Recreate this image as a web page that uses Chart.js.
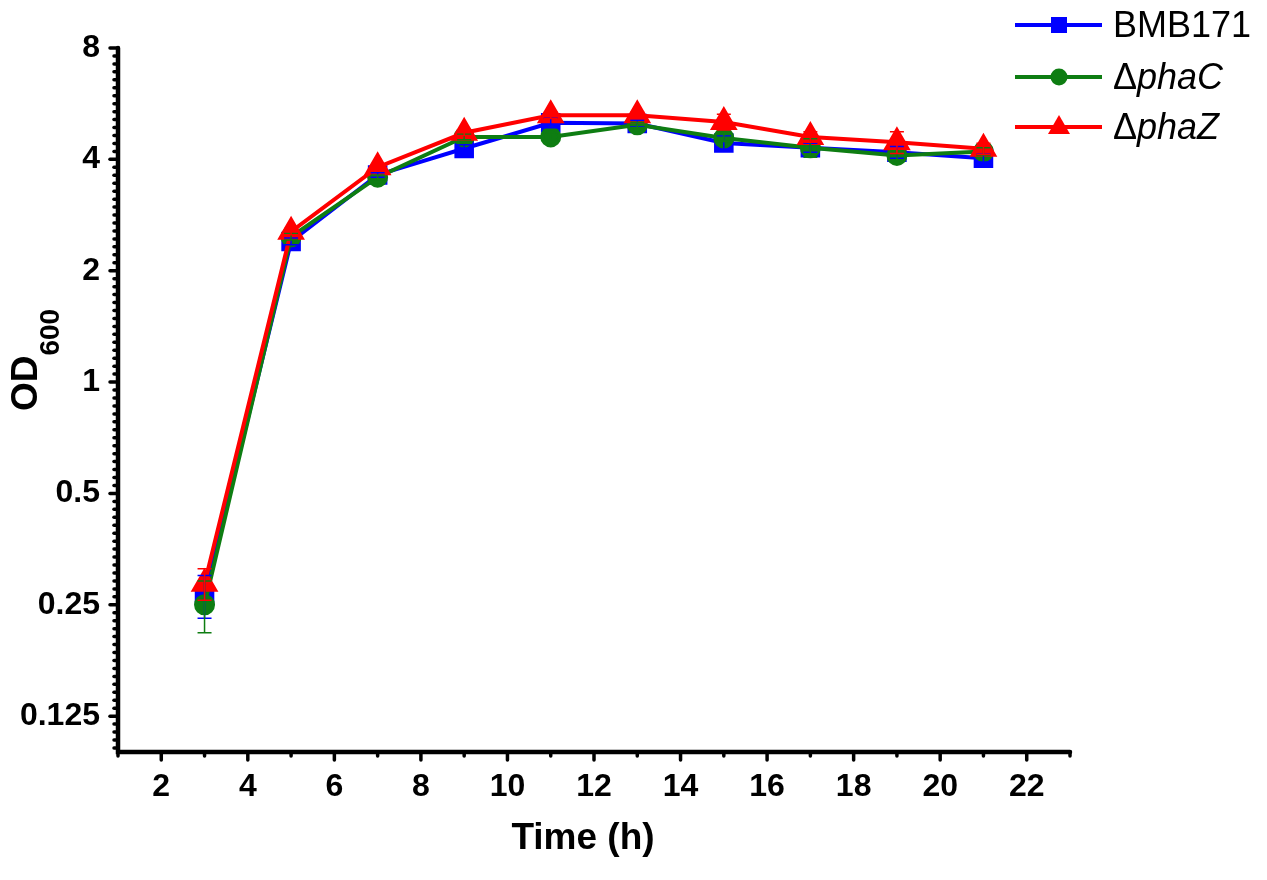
<!DOCTYPE html>
<html>
<head>
<meta charset="utf-8">
<script src="https://cdn.jsdelivr.net/npm/chart.js@4.4.0/dist/chart.umd.min.js"></script>
<style>
html,body{margin:0;padding:0;background:#fff;}
canvas{display:block;}
</style>
</head>
<body>
<canvas id="c" width="1267" height="880"></canvas>
<script>
const times = [3, 5, 7, 9, 11, 13, 15, 17, 19, 21];
const bmb171 = [0.265, 2.40, 3.63, 4.28, 5.02, 5.0, 4.43, 4.3, 4.18, 4.03];
const bmb171Err = [0.035, 0.05, 0.05, 0.1, 0.15, 0.1, 0.2, 0.12, 0.15, 0.1];
const phaC = [0.25, 2.47, 3.58, 4.6, 4.6, 4.96, 4.57, 4.3, 4.1, 4.2];
const phaCErr = [0.04, 0.05, 0.05, 0.08, 0.08, 0.08, 0.1, 0.25, 0.12, 0.1];
const phaZ = [0.285, 2.55, 3.81, 4.72, 5.26, 5.26, 5.05, 4.6, 4.45, 4.27];
const phaZErr = [0.028, 0.05, 0.05, 0.08, 0.1, 0.1, 0.25, 0.15, 0.3, 0.15];
const xTicks = [2, 4, 6, 8, 10, 12, 14, 16, 18, 20, 22];
const yTicks = [0.125, 0.25, 0.5, 1, 2, 4, 8];
const yTickLabels = ['0.125', '0.25', '0.5', '1', '2', '4', '8'];

const BLUE = '#0000ff', GREEN = '#0e7d12', RED = '#ff0000';
const FONT = "'Liberation Sans', Arial, sans-serif";

function pts(vals) { return times.map((t, i) => ({x: t, y: vals[i]})); }

const errs = [bmb171Err, phaCErr, phaZErr];

const customPlugin = {
  id: 'custom',
  afterDatasetsDraw(chart) {
    const ctx = chart.ctx, xs = chart.scales.x, ys = chart.scales.y;
    chart.data.datasets.forEach((ds, di) => {
      const e = errs[di];
      ctx.save();
      ctx.strokeStyle = ds.borderColor;
      ctx.lineWidth = 1.5;
      ds.data.forEach((p, i) => {
        const px = xs.getPixelForValue(p.x);
        const yt = ys.getPixelForValue(p.y + e[i]);
        const yb = ys.getPixelForValue(p.y - e[i]);
        ctx.beginPath();
        ctx.moveTo(px, yt); ctx.lineTo(px, yb);
        ctx.moveTo(px - 7, yt); ctx.lineTo(px + 7, yt);
        ctx.moveTo(px - 7, yb); ctx.lineTo(px + 7, yb);
        ctx.stroke();
      });
      ctx.restore();
    });
  },
  afterDraw(chart) {
    const ctx = chart.ctx, xs = chart.scales.x, ys = chart.scales.y;
    const ca = chart.chartArea;
    ctx.save();
    ctx.strokeStyle = '#000';
    ctx.lineCap = 'round';
    // axis lines
    ctx.lineWidth = 4.5;
    ctx.beginPath();
    ctx.moveTo(ca.left, ca.top); ctx.lineTo(ca.left, ca.bottom); ctx.lineTo(ca.right, ca.bottom);
    ctx.stroke();
    // y ticks
    ctx.lineWidth = 3.5;
    const lmin = Math.log2(ys.min), lmax = Math.log2(ys.max);
    const nMinor = 14;
    for (let k = Math.floor(lmin); k <= Math.ceil(lmax); k++) {
      for (let i = 0; i < nMinor; i++) {
        const lv = k + i / nMinor;
        if (lv < lmin - 1e-9 || lv > lmax + 1e-9) continue;
        const py = ys.getPixelForValue(Math.pow(2, lv));
        const len = i === 0 ? 8 : 4;
        ctx.beginPath(); ctx.moveTo(ca.left, py); ctx.lineTo(ca.left - len, py); ctx.stroke();
      }
    }
    // x ticks
    for (let v = xs.min; v <= xs.max + 1e-9; v += 1) {
      const px = xs.getPixelForValue(v);
      const len = (v % 2 === 0) ? 8 : 4;
      ctx.beginPath(); ctx.moveTo(px, ca.bottom); ctx.lineTo(px, ca.bottom + len); ctx.stroke();
    }
    // x title
    ctx.fillStyle = '#000';
    ctx.font = 'bold 37px ' + FONT;
    ctx.textAlign = 'center';
    ctx.textBaseline = 'alphabetic';
    ctx.fillText('Time (h)', 583, 849);
    // y title rotated
    ctx.save();
    ctx.translate(37, 360);
    ctx.rotate(-Math.PI / 2);
    ctx.textAlign = 'left';
    ctx.font = 'bold 37px ' + FONT;
    const odW = ctx.measureText('OD').width;
    ctx.font = 'bold 28px ' + FONT;
    const subW = ctx.measureText('600').width;
    const total = odW + subW;
    ctx.font = 'bold 37px ' + FONT;
    ctx.fillText('OD', -total / 2, 0);
    ctx.font = 'bold 28px ' + FONT;
    ctx.fillText('600', -total / 2 + odW, 22);
    ctx.restore();
    // legend
    const rows = [
      {color: BLUE, style: 'rect', parts: [['BMB171', false]], y: 25},
      {color: GREEN, style: 'circle', parts: [['\u0394', false], ['phaC', true]], y: 77},
      {color: RED, style: 'triangle', parts: [['\u0394', false], ['phaZ', true]], y: 127}
    ];
    rows.forEach(r => {
      ctx.strokeStyle = r.color; ctx.fillStyle = r.color;
      ctx.lineWidth = 4; ctx.lineCap = 'butt';
      ctx.beginPath(); ctx.moveTo(1015, r.y); ctx.lineTo(1102, r.y); ctx.stroke();
      const mx = 1059;
      ctx.beginPath();
      if (r.style === 'rect') ctx.rect(mx - 8, r.y - 8, 16, 16);
      else if (r.style === 'circle') ctx.arc(mx, r.y, 8.5, 0, Math.PI * 2);
      else { ctx.moveTo(mx, r.y - 12); ctx.lineTo(mx + 11, r.y + 7); ctx.lineTo(mx - 11, r.y + 7); ctx.closePath(); }
      ctx.fill();
      let tx = 1113;
      ctx.fillStyle = '#000';
      ctx.textAlign = 'left'; ctx.textBaseline = 'middle';
      r.parts.forEach(([txt, it]) => {
        ctx.font = (it ? 'italic ' : '') + '36px ' + FONT;
        ctx.fillText(txt, tx, r.y + 2);
        tx += ctx.measureText(txt).width;
      });
    });
    ctx.restore();
  }
};

new Chart(document.getElementById('c'), {
  type: 'line',
  data: {
    datasets: [
      {label: 'BMB171', data: pts(bmb171), borderColor: BLUE, backgroundColor: BLUE, pointStyle: 'rect', pointRadius: 11, pointHoverRadius: 11, borderWidth: 4, order: 3},
      {label: '\u0394phaC', data: pts(phaC), borderColor: GREEN, backgroundColor: GREEN, pointStyle: 'circle', pointRadius: 8.5, pointHoverRadius: 8.5, borderWidth: 4, order: 2},
      {label: '\u0394phaZ', data: pts(phaZ), borderColor: RED, backgroundColor: RED, pointStyle: 'triangle', pointRadius: 12, pointHoverRadius: 12, borderWidth: 4, order: 1}
    ]
  },
  options: {
    responsive: false,
    animation: false,
    devicePixelRatio: 1,
    layout: {padding: {left: 0, top: 48, right: 197, bottom: 0}},
    elements: {line: {tension: 0}, point: {borderWidth: 0}},
    plugins: {legend: {display: false}, tooltip: {enabled: false}},
    scales: {
      x: {
        type: 'linear', min: 1, max: 23,
        afterBuildTicks: s => { s.ticks = xTicks.map(v => ({value: v})); },
        afterFit: s => { s.height = 128; },
        grid: {display: false, drawTicks: false},
        border: {display: false},
        ticks: {autoSkip: false, maxRotation: 0, padding: 16, color: '#000', font: {family: FONT, size: 32, weight: 'bold'}}
      },
      y: {
        type: 'logarithmic', min: 0.1, max: 8,
        afterBuildTicks: s => { s.ticks = yTicks.map(v => ({value: v})); },
        afterFit: s => { s.width = 118; },
        grid: {display: false, drawTicks: false},
        border: {display: false},
        ticks: {autoSkip: false, padding: 18, color: '#000', font: {family: FONT, size: 32, weight: 'bold'},
          callback: (v, i) => yTickLabels[i]}
      }
    }
  },
  plugins: [customPlugin]
});
</script>
</body>
</html>
